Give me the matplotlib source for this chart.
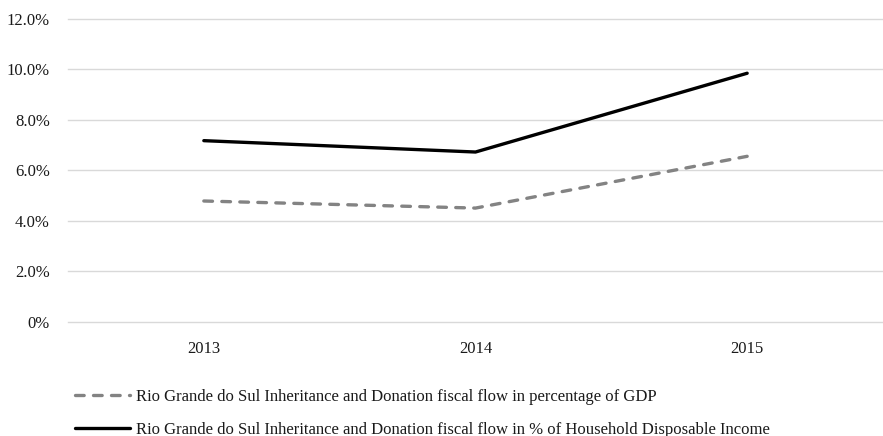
import matplotlib
matplotlib.use("Agg")
import matplotlib.pyplot as plt
from matplotlib.ticker import FuncFormatter

years = ["2013", "2014", "2015"]
share_gdp = [4.78, 4.50, 6.55]
share_income = [7.17, 6.72, 9.84]
label_gdp = "Rio Grande do Sul Inheritance and Donation fiscal flow in percentage of GDP"
label_income = "Rio Grande do Sul Inheritance and Donation fiscal flow in % of Household Disposable Income"

plt.rcParams["font.family"] = ["Liberation Serif", "DejaVu Serif"]

fig = plt.figure(figsize=(8.83, 4.36), dpi=100)
ax = fig.add_axes([68 / 883, 1 - 321.7 / 436, (883 - 68) / 883, (321.7 - 18.7) / 436])

x = range(len(years))
ax.plot(x, share_gdp, color="#838383", lw=2.4, ls=(0, (2.6, 2.8)),
        solid_capstyle="round", dash_capstyle="round", label=label_gdp)
ax.plot(x, share_income, color="#000000", lw=2.4, solid_capstyle="round",
        label=label_income)

ax.set_xlim(-0.5, 2.5)
ax.set_ylim(0, 12)
ax.set_yticks([0, 2, 4, 6, 8, 10, 12])
ax.yaxis.set_major_formatter(FuncFormatter(lambda v, p: "0%" if v == 0 else f"{v:.1f}%"))
ax.set_xticks(list(x))
ax.set_xticklabels(years)
ax.tick_params(axis="both", length=0, labelsize=12, colors="#1a1a1a")
ax.tick_params(axis="x", pad=14)
ax.tick_params(axis="y", pad=13)
ax.grid(axis="y", color="#d9d9d9", lw=1)
for gl in ax.get_ygridlines():
    gl.set_clip_on(False)
ax.set_axisbelow(True)
for s in ax.spines.values():
    s.set_visible(False)

ax.legend(loc="upper left", bbox_to_anchor=(75 / 883, 1 - 389 / 436),
          bbox_transform=fig.transFigure, frameon=False, fontsize=12,
          borderpad=0, borderaxespad=0,
          handlelength=3.3, handletextpad=0.36, labelspacing=1.0,
          labelcolor="#1a1a1a")

fig.savefig("out.png", dpi=100, facecolor="white")
